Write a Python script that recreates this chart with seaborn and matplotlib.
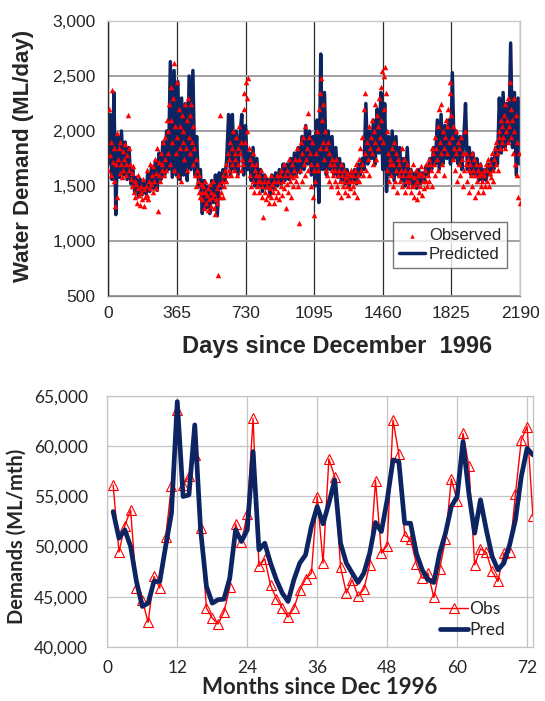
import numpy as np
import pandas as pd
import matplotlib
matplotlib.use("Agg")
import matplotlib.pyplot as plt
import seaborn as sns
from matplotlib.ticker import FuncFormatter

# ---------------- data: daily chart ----------------
# predicted daily demand (ML/day), read every 10 days from day 0 to day 2190
pred_daily = [
    1700, 2150, 1560, 2350, 1240, 1950, 1580, 2000, 1600, 1900,
    1560, 1850, 1520, 1650, 1450, 1580, 1400, 1560, 1420, 1540,
    1430, 1620, 1450, 1680, 1480, 1720, 1460, 1800, 1560, 1900,
    1600, 2000, 1650, 2630, 1580, 2550, 1600, 2450, 1560, 2300,
    1600, 2250, 1550, 2500, 1650, 2550, 1600, 1950, 1500, 1650,
    1250, 1550, 1300, 1500, 1250, 1550, 1350, 1600, 1230, 1620,
    1480, 1650, 1550, 1750, 2150, 1600, 2150, 1650, 2000, 1600,
    1950, 2150, 1600, 2050, 1650, 1800, 1550, 1850, 1500, 1750,
    1500, 1650, 1450, 1600, 1480, 1560, 1420, 1600, 1480, 1620,
    1500, 1650, 1520, 1700, 1550, 1700, 1560, 1750, 1580, 1800,
    1600, 1850, 1620, 1950, 1650, 2050, 1700, 2000, 1600, 1950,
    1500, 2100, 1350, 2700, 1650, 2350, 1600, 2000, 1650, 1950,
    1600, 1850, 1580, 1750, 1550, 1700, 1520, 1650, 1500, 1620,
    1550, 1650, 1520, 1700, 1600, 1750, 1650, 2250, 1700, 2000,
    1750, 2100, 1700, 2200, 1800, 2350, 1650, 2250, 1450, 1950,
    1600, 2000, 1550, 1950, 1600, 1850, 1550, 1750, 1500, 1850,
    1520, 1650, 1500, 1620, 1480, 1650, 1520, 1620, 1550, 1680,
    1600, 1750, 1650, 1850, 1700, 2100, 1650, 2150, 1700, 2050,
    1750, 2100, 1700, 2530, 1750, 2000, 1700, 1950, 1650, 1900,
    2250, 1650, 1850, 1600, 1800, 1600, 1750, 1550, 1700, 1550,
    1650, 1550, 1700, 1600, 1750, 1650, 1850, 1700, 2300, 1800,
    2350, 1850, 2250, 1900, 2800, 1850, 2350, 1600, 2300, 1700,
]
pred_days = np.arange(0, 2191, 10)

# observed daily demand (ML/day), read every 4 days from day 0 to day 2188
obs_daily = [
    1650, 2200, 1780, 1900, 1600, 2370, 1720, 1850, 1550, 1320, 1700, 1980, 1400, 1750, 1850, 1620, 1900, 1700, 1580, 1820, 1650, 1750, 1880, 1600, 1700,
    1780, 2150, 1650, 1850, 1700, 1560, 1620, 1500, 1680, 1450, 1550, 1400, 1520, 1350, 1480, 1600, 1420, 1330, 1500, 1450, 1380, 1560, 1320, 1470, 1400,
    1500, 1420, 1650, 1380, 1550, 1480, 1700, 1520, 1600, 1450, 1680, 1550, 1750, 1620, 1480, 1850, 1270, 1600, 1720, 1550, 1800, 1650, 1700, 1900, 1600,
    1750, 1950, 1650, 2100, 1800, 2000, 2250, 1700, 2400, 2100, 1900, 2300, 1650, 2620, 2050, 1800, 2450, 1950, 1600, 2200, 1850, 2050, 1550, 2150, 1900,
    2000, 1750, 2250, 1850, 2100, 1650, 2300, 1950, 2150, 1800, 2250, 1900, 2050, 1700, 1850, 1600, 1750, 1500, 1650, 1550, 1450, 1600, 1400, 1520, 1450,
    1380, 1500, 1300, 1450, 1550, 1350, 1420, 1280, 1480, 1380, 1520, 1320, 1450, 1400, 1550, 1300, 1430, 1250, 1380, 1480, 1350, 690, 1520, 2150, 1400,
    1450, 1550, 1400, 1600, 1500, 1650, 1550, 1700, 1600, 1800, 1650, 1750, 1900, 1600, 1850, 1700, 2000, 1650, 1800, 1750, 1950, 1600, 1850, 1700, 2050,
    1800, 1650, 1900, 1750, 1700, 2350, 2200, 1900, 2450, 2300, 2000, 2480, 1850, 1600, 1750, 1500, 1700, 1550, 1800, 1450, 1650, 1600, 1700, 1500, 1550,
    1600, 1450, 1550, 1650, 1400, 1500, 1220, 1550, 1450, 1600, 1380, 1500, 1420, 1550, 1350, 1480, 1600, 1400, 1520, 1450, 1350, 1550, 1480, 1400, 1600,
    1450, 1550, 1380, 1600, 1500, 1650, 1420, 1550, 1700, 1480, 1600, 1300, 1520, 1650, 1450, 1750, 1550, 1600, 1400, 1700, 1580, 1500, 1650, 1750, 1550,
    1600, 1850, 1500, 1160, 1750, 1650, 1900, 1550, 1800, 1950, 1700, 1600, 2050, 1750, 1850, 2160, 1650, 1950, 1800, 1700, 1500, 1900, 1400, 1650, 1240,
    1550, 1800, 1700, 2000, 1650, 2200, 1850, 2350, 2480, 2100, 1900, 2250, 1750, 2000, 1650, 1850, 1600, 1900, 1550, 1800, 1700, 1500, 1750, 1650, 1600,
    1700, 1550, 1650, 1750, 1500, 1600, 1450, 1650, 1550, 1700, 1400, 1600, 1500, 1550, 1650, 1450, 1580, 1500, 1620, 1420, 1550, 1600, 1480, 1650, 1550,
    1500, 1600, 1450, 1650, 1550, 1700, 1400, 1600, 1750, 1550, 1850, 1650, 1950, 1700, 1600, 2200, 1800, 2350, 1650, 1900, 1750, 2050, 1600, 1850, 1950,
    1800, 2100, 1700, 2000, 1900, 2250, 1750, 2150, 1850, 2050, 2300, 1950, 2400, 2100, 2550, 1900, 2200, 2500, 2580, 2350, 2000, 1650, 1800, 1550, 1700,
    1750, 1600, 1850, 1500, 1700, 1900, 1550, 1650, 1800, 1450, 1750, 1600, 1700, 1550, 1650, 1850, 1500, 1600, 1750, 1450, 1650, 1550, 1700, 1500, 1600,
    1550, 1650, 1450, 1600, 1500, 1700, 1400, 1580, 1520, 1650, 1380, 1550, 1600, 1450, 1620, 1500, 1680, 1420, 1550, 1600, 1480, 1650, 1550, 1700, 1500,
    1600, 1750, 1550, 1700, 1650, 1850, 1500, 1800, 1700, 1950, 1600, 1850, 1750, 2050, 1650, 2200, 1900, 2250, 1800, 1700, 2000, 1850, 1600, 1950, 2100,
    1800, 2050, 2200, 1900, 2450, 2350, 2150, 1950, 1750, 2050, 1850, 1650, 2000, 1800, 1550, 1900, 1700, 1850, 1600, 1950, 1750, 1500, 1800, 1650, 2000,
    1700, 1800, 1550, 1750, 1650, 1450, 1700, 1600, 1800, 1500, 1650, 1750, 1400, 1600, 1700, 1550, 1650, 1450, 1600, 1700, 1500, 1620, 1550, 1450, 1650,
    1600, 1500, 1700, 1550, 1650, 1750, 1500, 1620, 1700, 1580, 1800, 1650, 1550, 1750, 1850, 1700, 1900, 1800, 1650, 1950, 2000, 1850, 2100, 1900, 2050,
    1950, 2150, 1850, 2250, 2000, 2100, 1900, 2300, 2050, 2450, 2200, 1950, 2100, 1800, 2300, 2000, 1700, 2150, 1900, 1600, 1400, 1800, 1350,
]
obs_days = np.arange(0, 2190, 4)

day_ticks = [0, 365, 730, 1095, 1460, 1825, 2190]
daily_yticks = [500, 1000, 1500, 2000, 2500, 3000]

# ---------------- data: monthly chart ----------------
months = list(range(1, 74))
obs_monthly = [
    56150, 49450, 52100, 53650, 45830, 44710, 42450, 47030, 45870, 50910,
    56050, 63600, 56150, 57000, 59130, 51900, 43880, 42880, 42290, 43480,
    45930, 52270, 50410, 53260, 62780, 48020, 48780, 46130, 44800, 43880,
    42980, 43880, 45640, 46770, 47360, 54990, 48350, 58730, 56980, 47960,
    45370, 46700, 45040, 45770, 48190, 56580, 49350, 50110, 62610, 59230,
    51100, 50770, 48290, 46860, 47360, 44940, 47760, 50740, 56740, 54560,
    61290, 58070, 48190, 49780, 49420, 47530, 46530, 49350, 49420, 55250,
    60620, 61950, 53000,
]
pred_monthly = [
    53490, 50840, 51670, 50010, 46530, 44040, 44370, 46530, 46530, 50010,
    53330, 64440, 54990, 55150, 62120, 51670, 46040, 44370, 44710, 44770,
    46860, 51670, 50510, 51670, 59460, 49680, 50340, 48350, 46700, 45370,
    44540, 46700, 48350, 49180, 52000, 53990, 52270, 54330, 56640, 50340,
    48350, 47360, 46430, 47360, 49350, 52400, 51500, 54660, 58630, 58470,
    52330, 52330, 49350, 47690, 46700, 46430, 49350, 51340, 53990, 54990,
    60460, 55320, 51340, 54660, 51670, 49020, 47690, 48350, 50180, 52670,
    56980, 59790, 59130,
]
month_ticks = [0, 12, 24, 36, 48, 60, 72]
monthly_yticks = [40000, 45000, 50000, 55000, 60000, 65000]

# ---------------- styling ----------------
sns.set_style("white")
RED = "#ff0000"
NAVY = "#0c2461"
comma = FuncFormatter(lambda v, p: f"{int(v):,}")

fig = plt.figure(figsize=(5.45, 7.01), dpi=100)
ax1 = fig.add_axes([0.1987, 0.5777, 0.7555, 0.3923])
ax2 = fig.add_axes([0.1969, 0.0770, 0.781, 0.3581])

# ---------- top chart ----------
df_pred = pd.DataFrame({"day": pred_days, "value": pred_daily})
df_obs = pd.DataFrame({"day": obs_days, "value": obs_daily})
sns.lineplot(data=df_pred, x="day", y="value", color=NAVY, lw=2.5, ax=ax1,
             label="Predicted", zorder=2)
sns.scatterplot(data=df_obs, x="day", y="value", marker="^", color=RED, s=16,
                linewidth=0, ax=ax1, label="Observed", zorder=3)
ax1.set_xlim(0, 2190)
ax1.set_ylim(500, 3000)
ax1.set_xticks(day_ticks)
ax1.set_yticks(daily_yticks)
ax1.yaxis.set_major_formatter(comma)
ax1.set_axisbelow(True)
ax1.xaxis.grid(True, color="#2a2a2a", lw=0.9)
ax1.yaxis.grid(True, color="#9a9a9a", lw=1.3)
ax1.spines["left"].set_color("#2a2a2a")
ax1.spines["bottom"].set_color("#8a8a8a")
ax1.spines["top"].set_color("#c8c8c8")
ax1.spines["right"].set_color("#c8c8c8")
for s in ax1.spines.values():
    s.set_linewidth(1.0)
ax1.tick_params(axis="x", direction="out", length=5, color="#555555", width=0.9,
                labelsize=12.5, pad=2)
ax1.tick_params(axis="y", direction="out", length=6, color="#9a9a9a", width=1.2,
                labelsize=12.5, pad=3)
for lab in ax1.get_xticklabels() + ax1.get_yticklabels():
    lab.set_fontfamily("Liberation Sans")
ax1.set_xlabel("Days since December  1996", fontsize=17, fontweight="bold",
               family="Liberation Sans")
ax1.set_ylabel("Water Demand (ML/day)", fontsize=16, fontweight="bold",
               family="Liberation Sans")
ax1.xaxis.set_label_coords(0.555, -0.14)
ax1.yaxis.set_label_coords(-0.18, 0.51)
h, l = ax1.get_legend_handles_labels()
order = [l.index("Observed"), l.index("Predicted")]
leg1 = ax1.legend([h[i] for i in order], [l[i] for i in order],
                  loc="lower right", bbox_to_anchor=(0.968, 0.102),
                  borderaxespad=0, frameon=True, fancybox=False,
                  prop={"family": "Liberation Sans", "size": 12},
                  handlelength=1.6, handletextpad=0.2, borderpad=0.35,
                  labelspacing=0.25, markerscale=0.8)
leg1.get_frame().set_edgecolor("#555555")
leg1.get_frame().set_linewidth(1.0)

# ---------- bottom chart ----------
df_m = pd.DataFrame({"month": months, "Obs": obs_monthly, "Pred": pred_monthly})
sns.lineplot(data=df_m, x="month", y="Obs", color=RED, lw=1.0, marker="^",
             markersize=7, markerfacecolor="none", markeredgecolor=RED,
             markeredgewidth=0.8, ax=ax2, label="Obs", zorder=2)
sns.lineplot(data=df_m, x="month", y="Pred", color=NAVY, lw=3.4, ax=ax2,
             label="Pred", zorder=3)
ax2.set_xlim(0, 73)
ax2.set_ylim(40000, 65000)
ax2.set_xticks(month_ticks)
ax2.set_yticks(monthly_yticks)
ax2.yaxis.set_major_formatter(comma)
ax2.set_axisbelow(True)
ax2.grid(True, color="#c4c4c4", lw=0.9)
for s in ax2.spines.values():
    s.set_color("#c4c4c4")
    s.set_linewidth(0.9)
ax2.tick_params(axis="x", direction="out", length=6, color="#b0b0b0", width=0.9,
                labelsize=12.5, pad=3)
ax2.tick_params(axis="y", direction="out", length=5, color="#b0b0b0", width=0.9,
                labelsize=12.5, pad=9)
for lab in ax2.get_xticklabels() + ax2.get_yticklabels():
    lab.set_fontfamily("Lato")
ax2.set_xlabel("Months since Dec 1996", fontsize=16, fontweight="bold", family="Lato",
               labelpad=1)
ax2.set_ylabel("Demands (ML/mth)", fontsize=14.5, fontweight="bold", family="Lato")
ax2.yaxis.set_label_coords(-0.19, 0.44)
leg2 = ax2.legend(loc="lower right", bbox_to_anchor=(0.955, 0.0), borderaxespad=0.1,
                  frameon=False, prop={"family": "Lato", "size": 12.5},
                  handlelength=1.6, handletextpad=0.1, labelspacing=0.3)

fig.savefig("out.png", dpi=100)
